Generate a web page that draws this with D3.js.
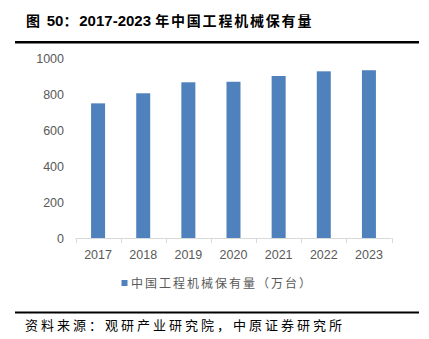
<!DOCTYPE html>
<html>
<head>
<meta charset="utf-8">
<script src="https://cdn.jsdelivr.net/npm/d3@7"></script>
<style>
  html, body { margin: 0; padding: 0; background: #fff; }
  svg { display: block; }
</style>
</head>
<body>
<script>
// Construction machinery fleet in China, 2017–2023 (10k units)
const years = ["2017", "2018", "2019", "2020", "2021", "2022", "2023"];
const fleet = [748, 804, 865, 868, 900, 926, 932];
const yTicks = [0, 200, 400, 600, 800, 1000];
const titleParts = [
  { t: "图 ", cjk: true },
  { t: "50", cjk: false },
  { t: "：", cjk: true },
  { t: "2017-2023 ", cjk: false },
  { t: "年中国工程机械保有量", cjk: true }
];
const legendText = "中国工程机械保有量（万台）";
const sourceText = "资料来源：观研产业研究院，中原证券研究所";

const W = 429, H = 339;
const svg = d3.select("body").append("svg").attr("width", W).attr("height", H);

const cjk = "'Noto Sans CJK SC', 'Noto Sans', sans-serif";
const latin = "'Liberation Sans', Arial, sans-serif";

// Title and rules
const title = svg.append("text")
  .attr("x", 26).attr("y", 26)
  .attr("font-weight", "bold")
  .attr("fill", "#000");
title.selectAll("tspan").data(titleParts).join("tspan")
  .attr("font-family", d => d.cjk ? cjk : latin)
  .attr("font-size", d => d.cjk ? 14 : 15)
  .attr("letter-spacing", d => d.cjk ? 1.8 : 0)
  .text(d => d.t);
svg.append("rect").attr("x", 15).attr("y", 41).attr("width", 404).attr("height", 2.5).attr("fill", "#000");
svg.append("rect").attr("x", 15).attr("y", 311.5).attr("width", 404).attr("height", 2).attr("fill", "#000");

// Scales
const x = d3.scaleBand().domain(years).range([75.5, 391.5]).paddingInner(0.69).paddingOuter(0.345);
const y = d3.scaleLinear().domain([0, 1000]).range([238, 58]);

// Bars
svg.append("g").selectAll("rect").data(years).join("rect")
  .attr("x", d => x(d))
  .attr("width", x.bandwidth())
  .attr("y", (d, i) => y(fleet[i]))
  .attr("height", (d, i) => y(0) - y(fleet[i]))
  .attr("fill", "#4f81bd");

// Y axis labels
const yAxis = d3.axisLeft(y).tickValues(yTicks).tickFormat(d3.format("d")).tickSize(0).tickPadding(0);
const gy = svg.append("g").attr("transform", "translate(64,0)").call(yAxis);
gy.select(".domain").remove();
gy.selectAll("text").attr("font-family", latin).attr("font-size", 12.5).attr("fill", "#595959");

// X axis with category separators
const gx = svg.append("g").attr("transform", `translate(0,${y(0)})`);
const outerX = d3.scaleLinear().domain([0, years.length]).range([75.5, 391.5]);
gx.append("line").attr("x1", 75.5).attr("x2", 391.5).attr("y1", 0.5).attr("y2", 0.5)
  .attr("stroke", "#d9d9d9").attr("stroke-width", 1);
gx.selectAll("line.sep").data(d3.range(years.length + 1)).join("line")
  .attr("class", "sep")
  .attr("x1", d => Math.round(outerX(d)) + 0.5).attr("x2", d => Math.round(outerX(d)) + 0.5)
  .attr("y1", 0).attr("y2", 5)
  .attr("stroke", "#d9d9d9");
const xAxis = d3.axisBottom(x).tickSize(0).tickPadding(12);
const gxl = svg.append("g").attr("transform", `translate(0,${y(0)})`).call(xAxis);
gxl.select(".domain").remove();
gxl.selectAll("text").attr("font-family", latin).attr("font-size", 12.5).attr("fill", "#595959");

// Legend
svg.append("rect").attr("x", 121.5).attr("y", 280).attr("width", 6).attr("height", 6).attr("fill", "#4f81bd");
svg.append("text")
  .attr("x", 131).attr("y", 287.5)
  .attr("font-family", cjk).attr("font-size", 12).attr("letter-spacing", 2.0)
  .attr("fill", "#595959")
  .text(legendText);

// Source note
svg.append("text")
  .attr("x", 25).attr("y", 330)
  .attr("font-family", cjk).attr("font-size", 13).attr("letter-spacing", 3.0)
  .attr("fill", "#000")
  .text(sourceText);
</script>
</body>
</html>
